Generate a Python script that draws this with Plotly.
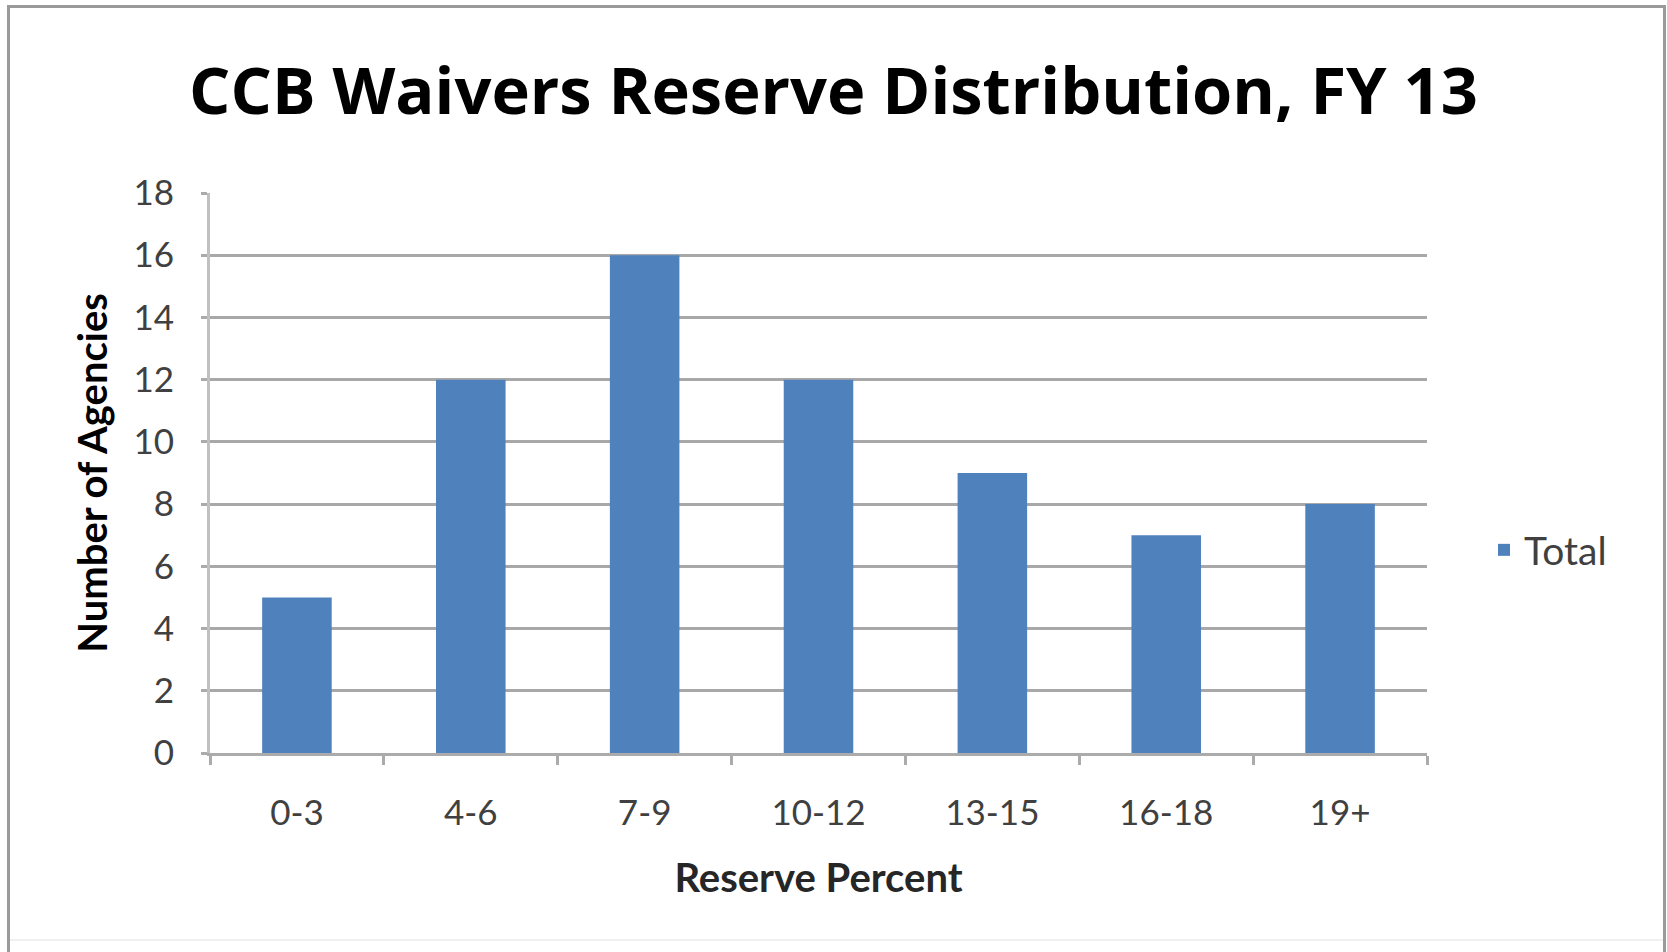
import plotly.graph_objects as go

categories = ["0-3", "4-6", "7-9", "10-12", "13-15", "16-18", "19+"]
totals = [5, 12, 16, 12, 9, 7, 8]
y_ticks = [0, 2, 4, 6, 8, 10, 12, 14, 16, 18]

W, H = 1667, 952
L, R, T, B = 210, 240, 193, 199
pw = W - L - R
ph = H - T - B

def px_x(p):
    return (p - L) / pw

def px_y(p):
    return (H - B - p) / ph

fig = go.Figure()
fig.add_trace(go.Bar(
    x=categories, y=totals, name="Total",
    marker=dict(color="#4F81BD", line=dict(width=0)),
    showlegend=True,
))

font_fam = "Lato, 'Open Sans', sans-serif"

fig.update_layout(
    width=W, height=H,
    margin=dict(l=L, r=R, t=T, b=B),
    paper_bgcolor="white", plot_bgcolor="white",
    bargap=0.6,
    showlegend=True,
    title=dict(
        text="<b>CCB Waivers Reserve Distribution, FY 13</b>",
        x=0.5, xref="container", xanchor="center",
        y=1 - 91 / H, yref="container", yanchor="middle",
        font=dict(family="'Open Sans', sans-serif", size=65, color="#000000"),
    ),
    legend=dict(
        x=px_x(1484), xanchor="left", y=px_y(550), yanchor="middle",
        font=dict(family=font_fam, size=39, color="#404040"),
        bgcolor="rgba(0,0,0,0)",
    ),
    xaxis=dict(
        type="category",
        title=dict(text="<b>Reserve Percent</b>", standoff=33,
                   font=dict(family=font_fam, size=40, color="#262626")),
        tickfont=dict(family=font_fam, size=35, color="#404040"),
        ticklabelstandoff=27,
        showline=True, linecolor="#ABABAB", linewidth=3,
        ticks="outside", tickson="boundaries", ticklen=9, tickwidth=3, tickcolor="#ABABAB",
        showgrid=False,
    ),
    yaxis=dict(
        title=dict(text="<b>Number of Agencies</b>", standoff=14,
                   font=dict(family=font_fam, size=40, color="#000000")),
        range=[0, 18], tickvals=y_ticks,
        tickfont=dict(family=font_fam, size=35, color="#404040"),
        ticklabelstandoff=20,
        showline=True, linecolor="#C0C0C0", linewidth=3,
        ticks="outside", ticklen=6, tickwidth=3, tickcolor="#ABABAB",
        showgrid=True, gridcolor="#A8A8A8", gridwidth=3,
        zeroline=False,
    ),
    shapes=[
        dict(type="line", xref="paper", yref="paper",
             x0=px_x(8.5), x1=px_x(8.5), y0=px_y(6), y1=px_y(960),
             line=dict(color="#9A9A9A", width=3)),
        dict(type="line", xref="paper", yref="paper",
             x0=px_x(1664.5), x1=px_x(1664.5), y0=px_y(6), y1=px_y(960),
             line=dict(color="#9A9A9A", width=3)),
        dict(type="line", xref="paper", yref="paper",
             x0=px_x(7), x1=px_x(1666), y0=px_y(6.5), y1=px_y(6.5),
             line=dict(color="#9A9A9A", width=3)),
        dict(type="line", xref="paper", yref="paper",
             x0=px_x(10), x1=px_x(1663), y0=px_y(940), y1=px_y(940),
             line=dict(color="#F0F0F0", width=2)),
    ],
)

fig.write_html("out.html")
